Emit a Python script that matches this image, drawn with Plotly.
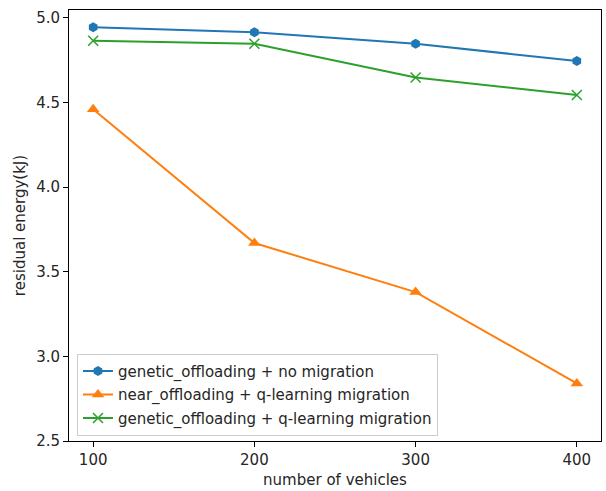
import plotly.graph_objects as go

vehicles = [100, 200, 300, 400]
genetic_no_migration = [4.945, 4.915, 4.848, 4.745]
near_q_learning = [4.46, 3.67, 3.38, 2.84]
genetic_q_learning = [4.865, 4.848, 4.648, 4.545]
names = ["genetic_offloading + no migration",
         "near_offloading + q-learning migration",
         "genetic_offloading + q-learning migration"]
colors = ["#1f77b4", "#ff7f0e", "#2ca02c"]
x_ticks = [100, 200, 300, 400]
y_ticks = [2.5, 3.0, 3.5, 4.0, 4.5, 5.0]

fig = go.Figure()
series = [genetic_no_migration, near_q_learning, genetic_q_learning]
symbols = ["hexagon", "triangle-up", "x-thin"]
sizes = [10, 11, 10]
for i, (ys, nm, c, s, sz) in enumerate(zip(series, names, colors, symbols, sizes)):
    marker = dict(symbol=s, size=sz, color=c)
    if s == "x-thin":
        marker["line"] = dict(color=c, width=1.5)
    fig.add_trace(go.Scatter(x=vehicles, y=ys, mode="lines+markers", name=nm,
                             line=dict(color=c, width=2), marker=marker,
                             legendgroup=str(i)))

axis_common = dict(showline=True, linecolor="black", linewidth=1, mirror=True,
                   ticks="outside", ticklen=5, tickcolor="black", showgrid=False,
                   zeroline=False, tickfont=dict(size=15, color="#262626"))
fig.update_layout(
    width=606, height=491,
    margin=dict(l=69, r=5, t=10, b=50),
    paper_bgcolor="white", plot_bgcolor="white",
    font=dict(family="DejaVu Sans", size=15, color="#262626"),
    xaxis=dict(range=[85, 415], tickvals=x_ticks,
               title=dict(text="number of vehicles", standoff=6, font=dict(size=15)),
               **axis_common),
    yaxis=dict(range=[2.5, 5.047], tickvals=y_ticks, ticktext=[f"{v:.1f}" for v in y_ticks],
               title=dict(text="residual energy(kJ)", standoff=6, font=dict(size=15)),
               **axis_common),
    legend=dict(x=0.015, y=0.012, xanchor="left", yanchor="bottom",
                bordercolor="#cccccc", borderwidth=1, bgcolor="rgba(255,255,255,0.8)",
                font=dict(size=15), tracegroupgap=1, traceorder="grouped"),
    showlegend=True,
)
fig.write_html("out.html")
